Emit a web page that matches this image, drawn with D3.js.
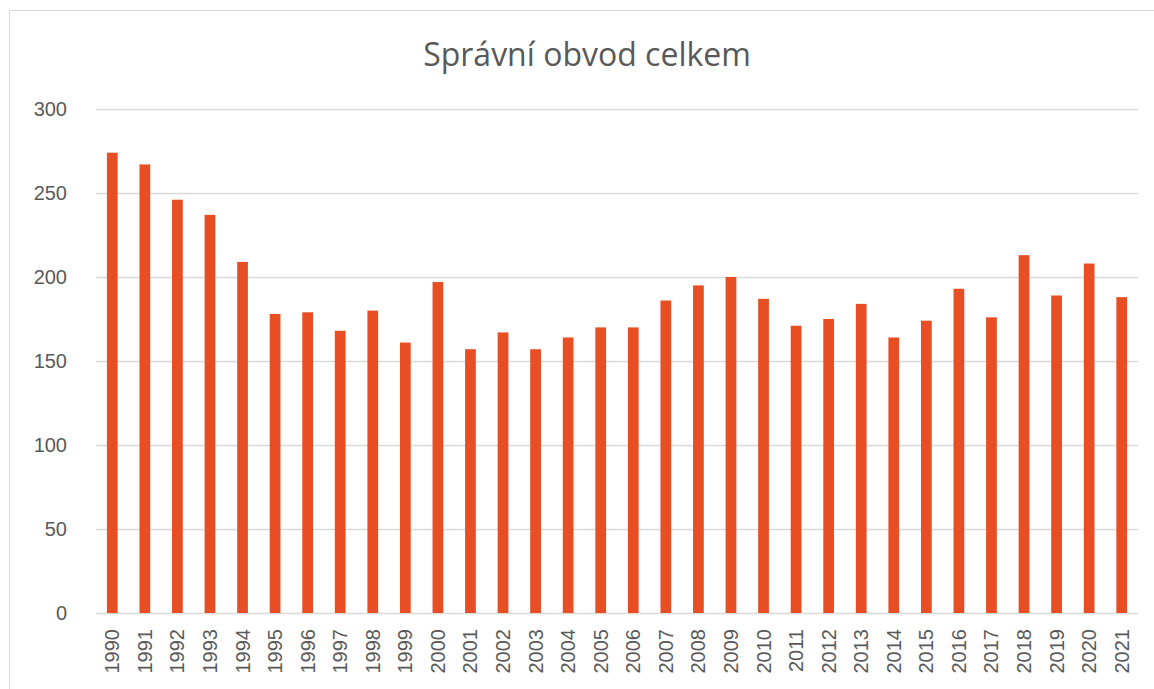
<!DOCTYPE html>
<html>
<head>
<meta charset="utf-8">
<script src="https://cdn.jsdelivr.net/npm/d3@7"></script>
<style>
  body { margin: 0; background: #fff; }
  svg { display: block; font-family: "Open Sans", "Noto Sans", sans-serif; }
</style>
</head>
<body>
<svg id="chart" width="1154" height="689"></svg>
<script>
// data
const years = ["1990","1991","1992","1993","1994","1995","1996","1997","1998","1999",
  "2000","2001","2002","2003","2004","2005","2006","2007","2008","2009",
  "2010","2011","2012","2013","2014","2015","2016","2017","2018","2019","2020","2021"]
const values = [274, 267, 246, 237, 209, 178, 179, 168, 180, 161,
  197, 157, 167, 157, 164, 170, 170, 186, 195, 200,
  187, 171, 175, 184, 164, 174, 193, 176, 213, 189, 208, 188]
const yTicks = [0, 50, 100, 150, 200, 250, 300]
const title = "Správní obvod celkem"

const svg = d3.select("#chart")
const margin = {left: 96, right: 16, top: 109, bottom: 76}
const W = 1154, H = 689
const labelFont = "'Liberation Sans', Arial, sans-serif"

// chart frame
svg.append("path")
    .attr("d", `M9.5,${H} V10.5 H${W}`)
    .attr("fill", "none")
    .attr("stroke", "#d9d9d9")
    .attr("stroke-width", 1)

let x = d3.scaleBand()
    .domain(years)
    .range([margin.left, W - margin.right])
    .paddingInner(0.67)
    .paddingOuter(0.335)

let y = d3.scaleLinear()
    .domain([0, 300])
    .range([H - margin.bottom, margin.top])

// gridlines
svg.append("g")
    .selectAll("line")
    .data(yTicks)
    .join("line")
    .attr("x1", margin.left)
    .attr("x2", W - margin.right)
    .attr("y1", d => Math.round(y(d)) + 0.5)
    .attr("y2", d => Math.round(y(d)) + 0.5)
    .attr("stroke", "#d9d9d9")
    .attr("stroke-width", 1.3)

// y axis labels
let yAxis = d3.axisLeft(y).tickValues(yTicks).tickSize(0).tickPadding(29)
svg.append("g")
    .attr("transform", `translate(${margin.left},0)`)
    .call(yAxis)
    .call(g => g.select(".domain").remove())
    .selectAll("text")
    .attr("fill", "#595959")
    .style("font-size", "20px")
    .style("font-family", labelFont)

// bars
svg.append("g")
    .selectAll("rect")
    .data(values)
    .join("rect")
    .attr("x", (d, i) => x(years[i]))
    .attr("width", x.bandwidth())
    .attr("y", d => y(d))
    .attr("height", d => y(0) - y(d))
    .attr("fill", "#e84e23")

// x axis labels
let xAxis = d3.axisBottom(x).tickSize(0)
svg.append("g")
    .attr("transform", `translate(0,${y(0)})`)
    .call(xAxis)
    .call(g => g.select(".domain").remove())
    .selectAll("text")
    .attr("fill", "#595959")
    .style("font-size", "20px")
    .style("font-family", labelFont)
    .attr("text-anchor", "end")
    .attr("transform", "rotate(-90)")
    .attr("x", -16)
    .attr("y", 0)
    .attr("dy", "0.35em")

// title
svg.append("text")
    .attr("x", 587)
    .attr("y", 66)
    .attr("text-anchor", "middle")
    .attr("fill", "#595959")
    .style("font-size", "32px")
    .text(title)
</script>
</body>
</html>
